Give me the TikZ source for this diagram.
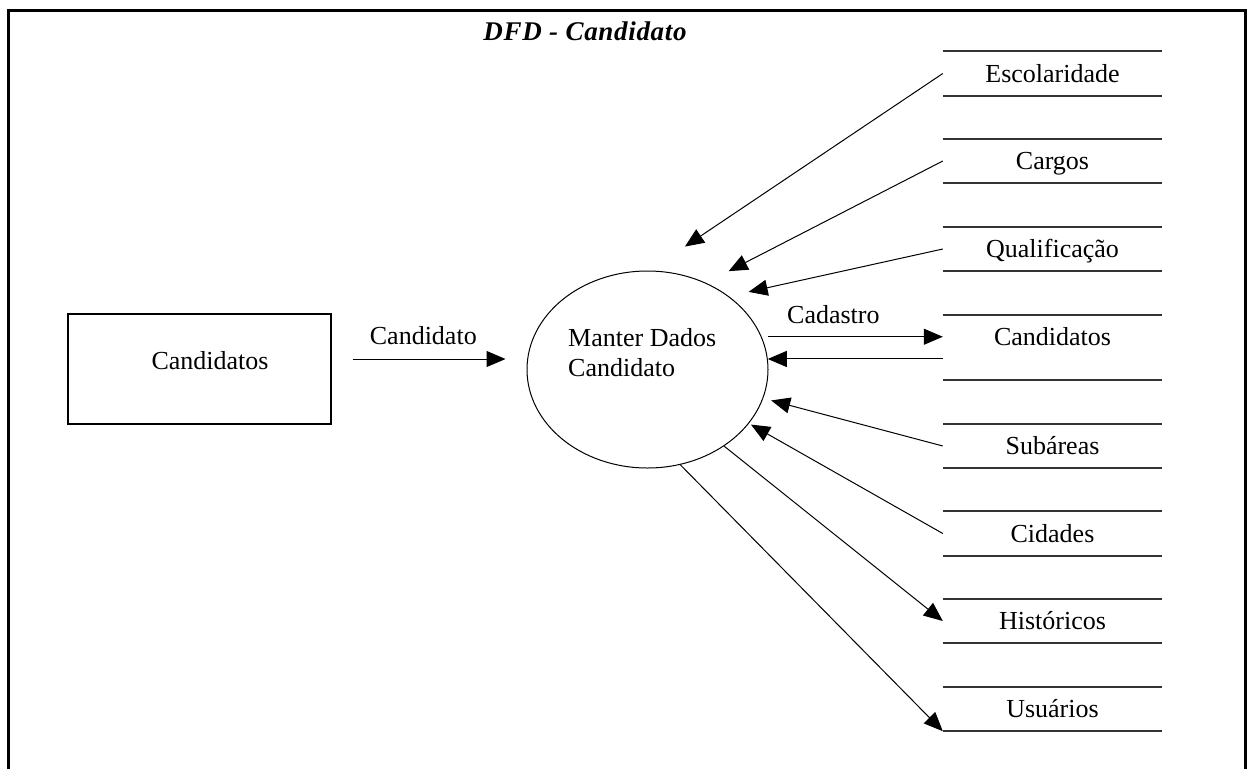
\documentclass[tikz,border=0pt]{standalone}
\usepackage{fontspec}
\setmainfont{Liberation Serif}
\usetikzlibrary{arrows.meta,shapes.geometric,calc}
\begin{document}
\begin{tikzpicture}[x=1pt,y=-1pt,
  txt/.style={font=\fontsize{26}{30}\selectfont, inner sep=0pt, text height=17.2pt, text depth=0pt},
  store/.style={txt, minimum width=219pt, minimum height=44pt},
  storeline/.style={line width=2pt, draw=black!80},
  flow/.style={line width=1pt, -{Triangle[length=19pt,width=16pt]}},
  proclabel/.style={font=\fontsize{26}{30}\selectfont, inner sep=0pt, align=left, anchor=west}
]
\useasboundingbox (0,0) rectangle (1247,769);
% frame
\draw[line width=3pt] (8,769) -- (8,10) -- (1245.5,10) -- (1245.5,769);
% title
\node[inner sep=0pt, font=\fontsize{27}{30}\selectfont\bfseries\itshape\addfontfeature{LetterSpace=2.5}] (title) at (585,31) {DFD - Candidato};
% external entity
\node[draw, line width=1.5pt, minimum width=263pt, minimum height=110pt, inner sep=0pt] (ext) at (199.5,369) {};
\node[txt] (extL) at (210,361) {Candidatos};
% process
\node[draw, ellipse, line width=1pt, minimum width=241pt, minimum height=197pt, inner sep=0pt] (proc) at (647.5,369.5) {};
\node[proclabel] (procL) at (568,352.5) {Manter Dados\\Candidato};
% stores
\node[store] (esc) at (1052.5,73.5) {Escolaridade};
\node[store] (car) at (1052.5,161) {Cargos};
\node[store] (qua) at (1052.5,249) {Qualificação};
\node[store, minimum height=65pt, text depth=21pt] (cad) at (1052.5,347.5) {Candidatos};
\node[store] (sub) at (1052.5,446) {Subáreas};
\node[store] (cid) at (1052.5,533.5) {Cidades};
\node[store] (his) at (1052.5,621) {Históricos};
\node[store] (usu) at (1052.5,709) {Usuários};
\foreach \s in {esc,car,qua,cad,sub,cid,his,usu}{
  \draw[storeline] (\s.north west) -- (\s.north east) (\s.south west) -- (\s.south east);
}
% flows
\coordinate (a1) at ([xshift=21pt,yshift=10pt]ext.east);
\draw[flow, shorten >=21pt] (a1) -- (a1 -| proc.west) node[txt, pos=0.406, yshift=23pt] (lcand) {Candidato};
\draw[flow, shorten >=43pt] (esc.west) -- (proc.89.5);
\draw[flow, shorten >=25.5pt] (car.west) -- (proc.56.8);
\draw[flow, shorten >=20.2pt] (qua.west) -- (proc.42.1);
\draw[flow, shorten <=6pt] (proc.16.5) -- (proc.16.5 -| cad.west) node[txt, pos=0.396, yshift=22pt] (lcad) {Cadastro};
\draw[flow] (proc.5.5 -| cad.west) -- (proc.5.5);
\draw[flow, shorten >=8.2pt] (sub.west) -- (proc.-14.9);
\draw[flow, shorten >=2.3pt] (cid.west) -- (proc.-28.4);
\draw[flow] (proc.-45) -- (his.west);
\draw[flow] (proc.-71.2) -- (usu.south west);
\end{tikzpicture}
\end{document}
